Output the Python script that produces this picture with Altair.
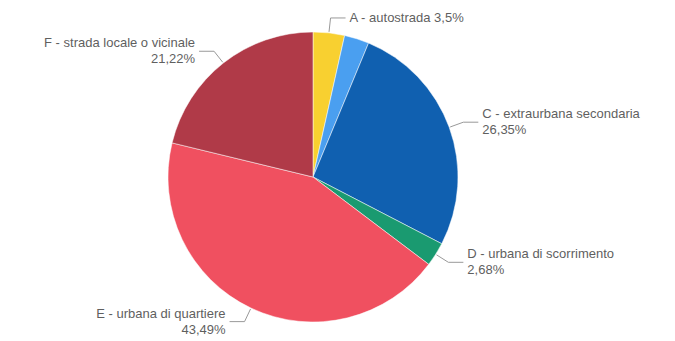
import altair as alt
import pandas as pd

categories = ["A - autostrada", "B - extraurbana principale", "C - extraurbana secondaria",
              "D - urbana di scorrimento", "E - urbana di quartiere", "F - strada locale o vicinale"]
values = [3.5, 2.76, 26.35, 2.68, 43.49, 21.22]
value_labels = ["3,5%", "2,76%", "26,35%", "2,68%", "43,49%", "21,22%"]
show_label = [True, False, True, True, True, True]
single_line = [True, False, False, False, False, False]
colors = ["#f8d030", "#4a9ff0", "#1060b0", "#1a9a70", "#f05060", "#b03a48"]

df = pd.DataFrame({
    "cat": categories,
    "val": values,
    "vlab": value_labels,
    "show": show_label,
    "single": single_line,
    "idx": list(range(len(categories))),
})

CX, CY, R = 305, 169, 145
LH = 16

base = alt.Chart(df)

pie = base.mark_arc(outerRadius=R, stroke="white", strokeWidth=0.5).encode(
    theta=alt.Theta("val:Q", stack=True),
    color=alt.Color("cat:N", scale=alt.Scale(domain=categories, range=colors), legend=None),
    order=alt.Order("idx:Q"),
    x=alt.value(CX),
    y=alt.value(CY),
)

geo = base.transform_window(
    cum="sum(val)", sort=[alt.SortField("idx")], frame=[None, 0]
).transform_joinaggregate(
    total="sum(val)"
).transform_calculate(
    mid="2*PI*(datum.cum - datum.val/2)/datum.total",
).transform_calculate(
    sx="sin(datum.mid)", cy="cos(datum.mid)",
).transform_calculate(
    side="datum.sx >= 0 ? 1 : -1",
    x0=f"{CX} + ({R}+1)*datum.sx", y0=f"{CY} - ({R}+1)*datum.cy",
    x1=f"{CX} + ({R}+15)*datum.sx", y1=f"{CY} - ({R}+15)*datum.cy",
).transform_calculate(
    x2="datum.x1 + 15*datum.side",
    tx="datum.x1 + 19*datum.side",
    ty=f"datum.single ? datum.y1 : datum.y1 - {LH/2}",
    txt="datum.single ? datum.cat + ' ' + datum.vlab : datum.cat + '\\n' + datum.vlab",
).transform_filter("datum.show")

seg1 = geo.mark_rule(color="#999999", strokeWidth=1).encode(
    x=alt.X("x0:Q", scale=None), y=alt.Y("y0:Q", scale=None),
    x2="x1:Q", y2="y1:Q",
)
seg2 = geo.mark_rule(color="#999999", strokeWidth=1).encode(
    x=alt.X("x1:Q", scale=None), y=alt.Y("y1:Q", scale=None),
    x2="x2:Q", y2="y1:Q",
)

txt_kw = dict(font="Liberation Sans", fontSize=13, color="#5f5f5f", baseline="middle", lineBreak="\n", lineHeight=LH)
text_r = geo.transform_filter("datum.side > 0").mark_text(align="left", **txt_kw).encode(
    x=alt.X("tx:Q", scale=None), y=alt.Y("ty:Q", scale=None), text="txt:N",
)
text_l = geo.transform_filter("datum.side < 0").mark_text(align="right", **txt_kw).encode(
    x=alt.X("tx:Q", scale=None), y=alt.Y("ty:Q", scale=None), text="txt:N",
)

chart = alt.layer(pie, seg1, seg2, text_r, text_l).properties(
    width=659, height=333, padding=0, autosize="none"
).configure_view(stroke=None)

chart.save("out.html", embed_options={"renderer": "svg", "actions": False})
